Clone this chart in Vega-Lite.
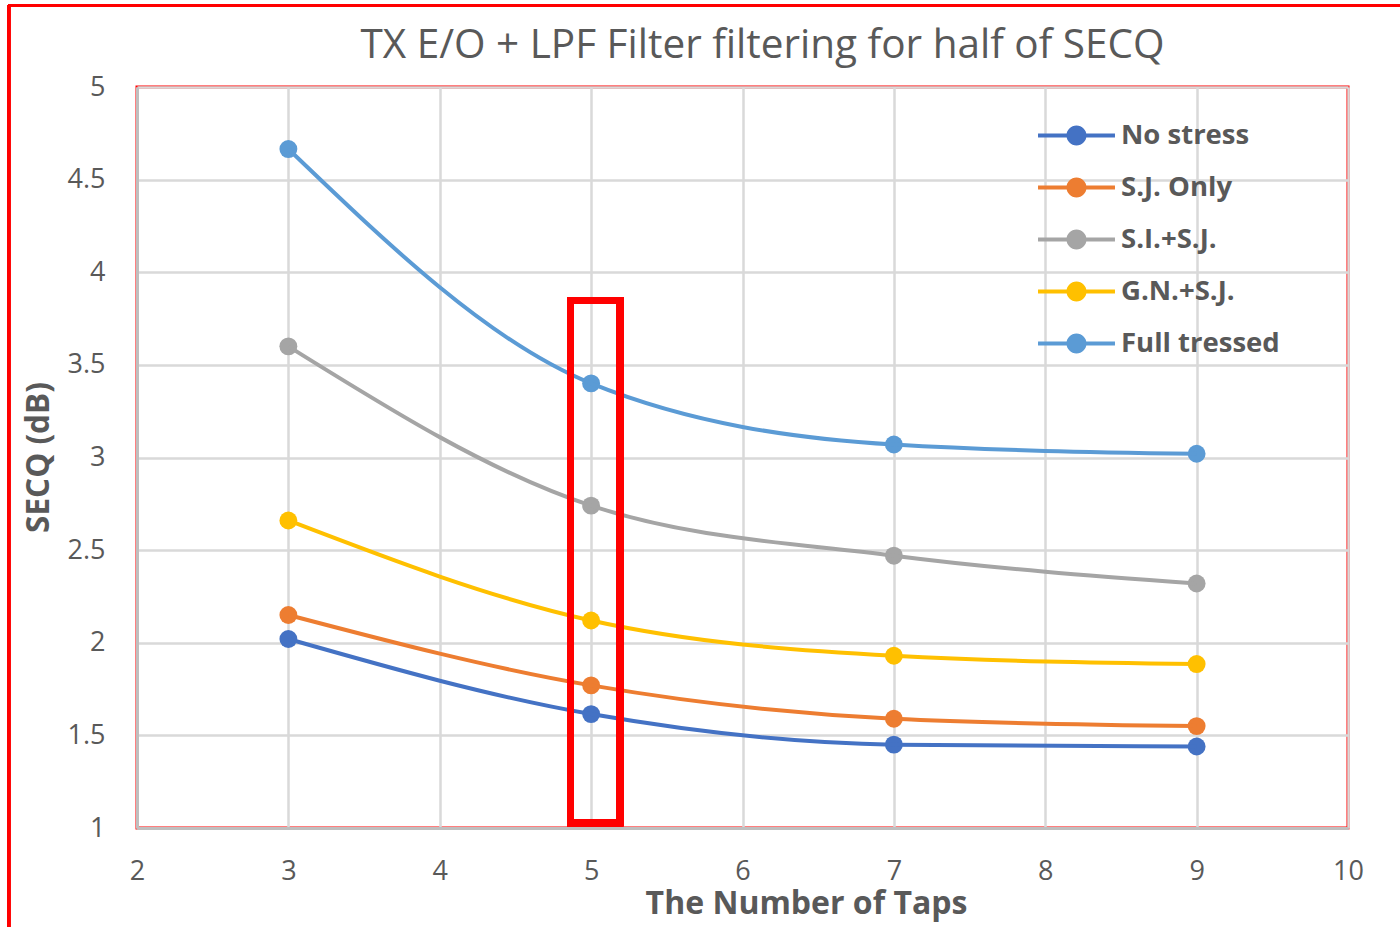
{
  "$schema": "https://vega.github.io/schema/vega-lite/v6.json",
  "width": 1211,
  "height": 741,
  "autosize": {"type": "none"},
  "padding": {"left": 137, "top": 87, "right": 52, "bottom": 99},
  "background": "white",
  "title": {
    "text": "TX E/O + LPF Filter filtering for half of SECQ",
    "font": "Open Sans",
    "fontSize": 40.5,
    "fontWeight": "normal",
    "color": "#595959",
    "anchor": "middle",
    "baseline": "bottom",
    "offset": 0,
    "dy": 104,
    "dx": 20
  },
  "config": {
    "view": {"stroke": "#FF0000", "strokeWidth": 3},
    "font": "Open Sans"
  },
  "data": {
    "values": [
      {"series": "No stress", "taps": 3, "secq": 2.02},
      {"series": "No stress", "taps": 5, "secq": 1.615},
      {"series": "No stress", "taps": 7, "secq": 1.45},
      {"series": "No stress", "taps": 9, "secq": 1.44},
      {"series": "S.J. Only", "taps": 3, "secq": 2.15},
      {"series": "S.J. Only", "taps": 5, "secq": 1.77},
      {"series": "S.J. Only", "taps": 7, "secq": 1.59},
      {"series": "S.J. Only", "taps": 9, "secq": 1.55},
      {"series": "S.I.+S.J.", "taps": 3, "secq": 3.6},
      {"series": "S.I.+S.J.", "taps": 5, "secq": 2.74},
      {"series": "S.I.+S.J.", "taps": 7, "secq": 2.47},
      {"series": "S.I.+S.J.", "taps": 9, "secq": 2.32},
      {"series": "G.N.+S.J.", "taps": 3, "secq": 2.66},
      {"series": "G.N.+S.J.", "taps": 5, "secq": 2.12},
      {"series": "G.N.+S.J.", "taps": 7, "secq": 1.93},
      {"series": "G.N.+S.J.", "taps": 9, "secq": 1.885},
      {"series": "Full tressed", "taps": 3, "secq": 4.665},
      {"series": "Full tressed", "taps": 5, "secq": 3.4},
      {"series": "Full tressed", "taps": 7, "secq": 3.07},
      {"series": "Full tressed", "taps": 9, "secq": 3.02}
    ]
  },
  "layer": [
    {
      "mark": {"type": "point", "shape": "circle", "filled": true, "size": 320, "opacity": 1},
      "encoding": {
        "x": {
          "field": "taps", "type": "quantitative",
          "scale": {"domain": [2, 10], "nice": false, "zero": false},
          "axis": {
            "title": "The Number of Taps",
            "values": [2, 3, 4, 5, 6, 7, 8, 9, 10],
            "format": "d",
            "ticks": false,
            "labelFlush": false,
            "labelOverlap": false,
            "domainColor": "#BFBFBF", "domainWidth": 3,
            "gridColor": "#D9D9D9", "gridWidth": 2.5,
            "labelFont": "Open Sans", "labelFontSize": 27, "labelColor": "#595959",
            "labelPadding": 30,
            "titleFont": "Open Sans", "titleFontSize": 32, "titleFontWeight": "bold", "titleColor": "#595959",
            "titleX": 669,
            "titleY": 85,
            "titleBaseline": "alphabetic",
            "titleAlign": "center"
          }
        },
        "y": {
          "field": "secq", "type": "quantitative",
          "scale": {"domain": [1, 5], "nice": false, "zero": false},
          "axis": {
            "title": "SECQ (dB)",
            "values": [1, 1.5, 2, 2.5, 3, 3.5, 4, 4.5, 5],
            "format": "~g",
            "ticks": false,
            "labelOverlap": false,
            "domainColor": "#BFBFBF", "domainWidth": 3,
            "gridColor": "#D9D9D9", "gridWidth": 2.5,
            "labelFont": "Open Sans", "labelFontSize": 27, "labelColor": "#595959",
            "labelPadding": 32,
            "titleFont": "Open Sans", "titleFontSize": 31.5, "titleFontWeight": "bold", "titleColor": "#595959",
            "titleX": -89,
            "titleY": 370,
            "titleAngle": -90,
            "titleBaseline": "alphabetic",
            "titleAlign": "center"
          }
        },
        "color": {
          "field": "series", "type": "nominal",
          "scale": {
            "domain": ["No stress", "S.J. Only", "S.I.+S.J.", "G.N.+S.J.", "Full tressed"],
            "range": ["#4472C4", "#ED7D31", "#A5A5A5", "#FFC000", "#5B9BD5"]
          },
          "legend": {
            "title": null,
            "orient": "none",
            "legendX": 920,
            "legendY": 29,
            "padding": 0,
            "symbolType": "M-2,-0.1H-0.4V0.1H-2Z M0.4,-0.1H2V0.1H0.4Z M-0.52,0C-0.52,-0.287 -0.287,-0.52 0,-0.52C0.287,-0.52 0.52,-0.287 0.52,0C0.52,0.287 0.287,0.52 0,0.52C-0.287,0.52 -0.52,0.287 -0.52,0Z",
            "symbolSize": 1480,
            "symbolStrokeWidth": 0,
            "symbolOpacity": 1,
            "rowPadding": 19,
            "labelOffset": 25,
            "labelFont": "Open Sans",
            "labelFontSize": 27.5,
            "labelFontWeight": "bold",
            "labelColor": "#595959",
            "labelLimit": 400
          }
        }
      }
    },
    {
      "mark": {"type": "line", "interpolate": "monotone", "strokeWidth": 4},
      "encoding": {
        "x": {"field": "taps", "type": "quantitative"},
        "y": {"field": "secq", "type": "quantitative"},
        "color": {"field": "series", "type": "nominal", "legend": null}
      }
    },
    {
      "mark": {"type": "rect", "fill": null, "fillOpacity": 0, "stroke": "#FF0000", "strokeWidth": 6.5},
      "encoding": {
        "x": {"datum": 4.864, "type": "quantitative"},
        "x2": {"datum": 5.191},
        "y": {"datum": 3.847, "type": "quantitative"},
        "y2": {"datum": 1.027}
      }
    },
    {
      "mark": {"type": "rule", "color": "#FF0000", "strokeWidth": 3},
      "encoding": {
        "x": {"datum": 1.152, "type": "quantitative"},
        "y": {"datum": 5.44, "type": "quantitative"},
        "y2": {"datum": -1}
      }
    },
    {
      "mark": {"type": "rule", "color": "#FF0000", "strokeWidth": 3},
      "encoding": {
        "x": {"datum": 1.152, "type": "quantitative"},
        "x2": {"datum": 11},
        "y": {"datum": 5.44, "type": "quantitative"}
      }
    }
  ]
}
